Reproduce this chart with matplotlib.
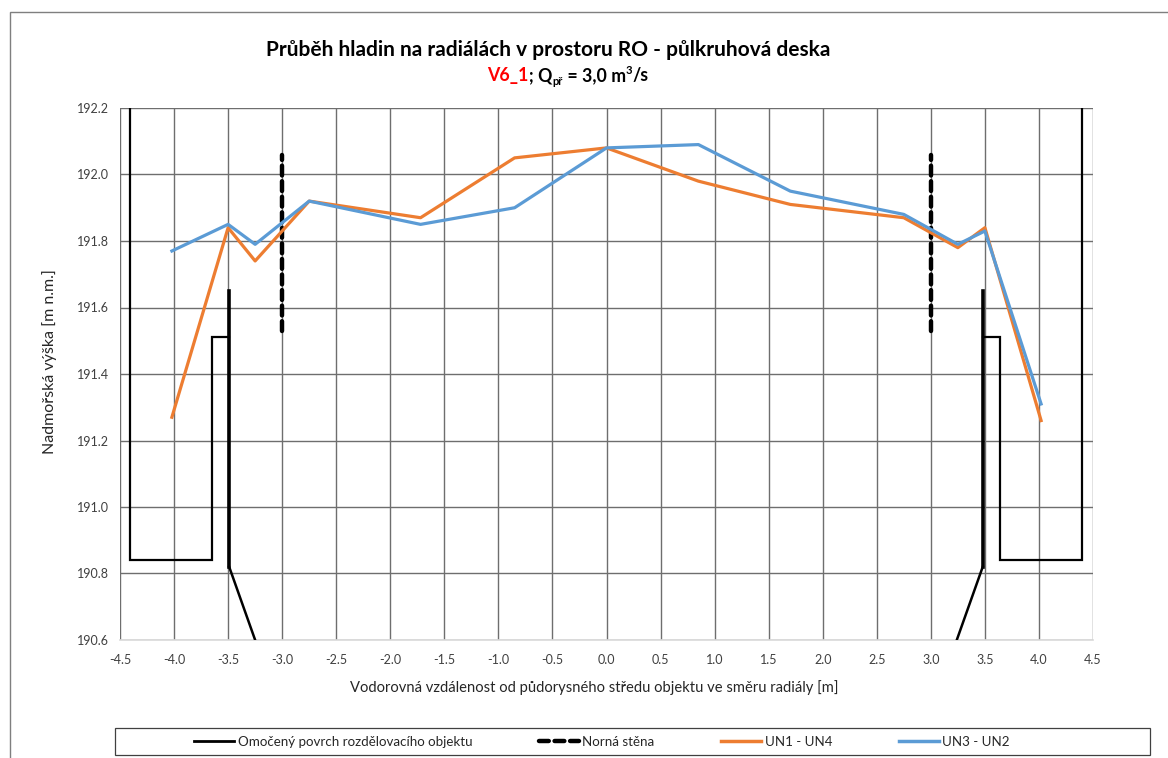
import matplotlib
matplotlib.use("Agg")
import matplotlib.pyplot as plt
from matplotlib.patches import Rectangle
from matplotlib.lines import Line2D

plt.rcParams['font.family'] = ['Lato', 'DejaVu Sans']

# ---- data ----
x_points = [-4.02, -3.5, -3.25, -2.75, -1.72, -0.85, 0.0, 0.85, 1.7, 2.75, 3.25, 3.5, 4.02]
un1_un4 = [191.27, 191.84, 191.74, 191.92, 191.87, 192.05, 192.08, 191.98, 191.91, 191.87, 191.78, 191.84, 191.26]
un3_un2 = [191.77, 191.85, 191.79, 191.92, 191.85, 191.90, 192.08, 192.09, 191.95, 191.88, 191.79, 191.83, 191.31]

wall_left_x = [-4.41, -4.41, -3.65, -3.65, -3.49]
wall_left_y = [192.3, 190.84, 190.84, 191.51, 191.51]
wall_right_x = [4.40, 4.40, 3.64, 3.64, 3.48]
wall_right_y = [192.3, 190.84, 190.84, 191.51, 191.51]
pier_left_x = [-3.49, -3.49, -3.25]
pier_left_y = [191.65, 190.82, 190.6]
pier_right_x = [3.48, 3.48, 3.24]
pier_right_y = [191.65, 190.82, 190.6]

baffle_x = [-3.0, 3.0]
baffle_y = [191.53, 192.06]

x_ticks = [-4.5, -4.0, -3.5, -3.0, -2.5, -2.0, -1.5, -1.0, -0.5, 0.0, 0.5, 1.0, 1.5, 2.0, 2.5, 3.0, 3.5, 4.0, 4.5]
y_ticks = [190.6, 190.8, 191.0, 191.2, 191.4, 191.6, 191.8, 192.0, 192.2]

title1 = "Průběh hladin na radiálách v prostoru RO - půlkruhová deska"
xlabel = "Vodorovná vzdálenost od půdorysného středu objektu ve směru radiály [m]"
ylabel = "Nadmořská výška [m n.m.]"
legend_labels = ["Omočený povrch rozdělovacího objektu", "Norná stěna", "UN1 - UN4", "UN3 - UN2"]

ORANGE = "#ED7D31"
BLUE = "#5B9BD5"

W, H = 1168, 758
fig = plt.figure(figsize=(W / 100, H / 100), dpi=100)
ax = fig.add_axes([120 / W, 1 - 640 / H, (1093 - 120) / W, (640 - 108) / H])

# figure border
fig.patches.append(Rectangle((10 / W, -0.1), 1.2, 1 - 12 / H + 0.1, transform=fig.transFigure,
                             fill=False, edgecolor="#7f7f7f", linewidth=1.0, zorder=0))

ax.set_xlim(-4.5, 4.5)
ax.set_ylim(190.6, 192.2)
ax.set_xticks(x_ticks)
ax.set_xticklabels([f"{v:.1f}" for v in x_ticks])
ax.set_yticks(y_ticks)
ax.set_yticklabels([f"{v:.1f}" for v in y_ticks])
ax.grid(True, color="#6e6e6e", linewidth=1.0)
ax.set_axisbelow(True)
ax.tick_params(length=0, labelsize=9, labelcolor="#404040", pad=8)
ax.tick_params(axis="x", pad=10)
for s in ["top", "right", "left"]:
    ax.spines[s].set_visible(False)
ax.spines["bottom"].set_color("#d9d9d9")
ax.spines["bottom"].set_linewidth(1.2)

# structures
ax.plot(wall_left_x, wall_left_y, color="black", lw=1.6, solid_joinstyle="miter", zorder=3)
ax.plot(wall_right_x, wall_right_y, color="black", lw=1.6, solid_joinstyle="miter", zorder=3)
ax.plot(pier_left_x[:2], pier_left_y[:2], color="black", lw=2.6, zorder=3)
ax.plot(pier_left_x[1:], pier_left_y[1:], color="black", lw=1.8, zorder=3)
ax.plot(pier_right_x[:2], pier_right_y[:2], color="black", lw=2.6, zorder=3)
ax.plot(pier_right_x[1:], pier_right_y[1:], color="black", lw=1.8, zorder=3)
for bx in baffle_x:
    ax.plot([bx, bx], baffle_y, color="black", lw=3.2, dashes=(2.2, 1.3),
            dash_capstyle="round", zorder=4)

ax.plot(x_points, un1_un4, color=ORANGE, lw=2.3, zorder=5)
ax.plot(x_points, un3_un2, color=BLUE, lw=2.3, zorder=6)

ax.set_xlabel(xlabel, fontsize=10.6, color="#262626")
ax.xaxis.set_label_coords((594 - 120) / 973, -(688 - 640) / 532)
ax.xaxis.label.set_va("center")
ax.set_ylabel(ylabel, fontsize=11.5, color="#262626")
ax.yaxis.set_label_coords(-(120 - 50) / 973, (640 - 362) / 532)
ax.yaxis.label.set_va("center")

# title
fig.text(548 / W, 1 - 50 / H, title1, ha="center", va="center", fontsize=15,
         fontweight="bold", color="black")

renderer = fig.canvas.get_renderer()
parts = [("V6_1", "red", 12.8, 0), ("; Q", "black", 12.8, 0), ("př", "black", 8, -4),
         (" = 3,0 m", "black", 12.8, 0), ("3", "black", 8, 7), ("/s", "black", 12.8, 0)]
base_y = 1 - 81 / H
texts = []
for s, c, fs, dy in parts:
    t = fig.text(0, base_y + dy / H, s, ha="left", va="baseline", fontsize=fs,
                 fontweight="bold", color=c)
    texts.append(t)
widths = [t.get_window_extent(renderer=renderer).width for t in texts]
total = sum(widths)
x0 = 568 - total / 2
for t, w in zip(texts, widths):
    t.set_x(x0 / W)
    x0 += w

# legend box
fig.patches.append(Rectangle((115 / W, 1 - 755 / H), (1150 - 115) / W, 27 / H,
                             transform=fig.transFigure, fill=False, edgecolor="#404040",
                             linewidth=0.9, zorder=1))
handles = [Line2D([], [], color="black", lw=2),
           Line2D([], [], color="black", lw=3.2, dashes=(2.2, 1.3), dash_capstyle="round"),
           Line2D([], [], color=ORANGE, lw=2.5),
           Line2D([], [], color=BLUE, lw=2.5)]
fig.legend(handles, legend_labels, loc="center", bbox_to_anchor=(602 / W, 1 - 741.5 / H),
           ncol=4, frameon=False, fontsize=9.6, handlelength=3.0, handletextpad=0.25,
           columnspacing=5.0, labelcolor="#262626")

fig.savefig("out.png", dpi=100)
